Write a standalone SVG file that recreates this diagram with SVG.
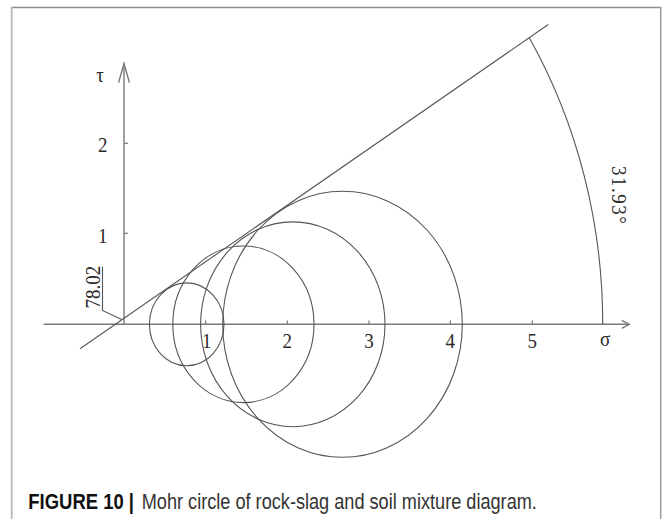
<svg xmlns="http://www.w3.org/2000/svg" width="665" height="519" viewBox="0 0 665 519">
  <style>
    .axis { stroke: #7a7a7a; stroke-width: 1.4; fill: none; }
    .tick { stroke: #7a7a7a; stroke-width: 1.2; fill: none; }
    .curve { stroke: #555; stroke-width: 1.1; fill: none; }
    .lbl { font-family: 'Liberation Serif', 'Times New Roman', serif; font-size: 19px; fill: #2a2a2a; }
    .mid { text-anchor: middle; }
    .cap { font-family: 'Liberation Sans', Arial, sans-serif; font-size: 22px; }
  </style>
  <rect width="665" height="519" fill="#ffffff"/>
  <g id="frame">
    <line x1="11.5" y1="7.5" x2="661" y2="7.5" stroke="#8c8c8c" stroke-width="1.5"/>
    <line x1="11.7" y1="7" x2="11.7" y2="519" stroke="#bdbdbd" stroke-width="2"/>
    <line x1="660.7" y1="7" x2="660.7" y2="519" stroke="#9a9a9a" stroke-width="1.5"/>
  </g>
  <g id="axes">
    <line class="axis" x1="43.5" y1="324.3" x2="629.3" y2="324.3"/>
    <polyline class="axis" points="621.7,320.3 629.3,324.3 621.7,328.3"/>
    <line class="axis" x1="124" y1="324.3" x2="124" y2="63.5"/>
    <polyline class="axis" points="118.6,82.5 124,63.5 129.4,82.5"/>
    <g id="ticks">
      <line class="tick" x1="205.7" y1="320.5" x2="205.7" y2="324.3"/>
      <line class="tick" x1="287.3" y1="320.5" x2="287.3" y2="324.3"/>
      <line class="tick" x1="369" y1="320.5" x2="369" y2="324.3"/>
      <line class="tick" x1="450.3" y1="320.5" x2="450.3" y2="324.3"/>
      <line class="tick" x1="532.3" y1="320.5" x2="532.3" y2="324.3"/>
      <line class="tick" x1="124" y1="233.3" x2="128" y2="233.3"/>
      <line class="tick" x1="124" y1="143.3" x2="128" y2="143.3"/>
    </g>
    <g id="axis-labels">
      <text class="lbl mid" transform="translate(206.7,348) scale(1,1.12)">1</text>
      <text class="lbl mid" transform="translate(287.3,348) scale(1,1.12)">2</text>
      <text class="lbl mid" transform="translate(369,348) scale(1,1.12)">3</text>
      <text class="lbl mid" transform="translate(450.3,348) scale(1,1.12)">4</text>
      <text class="lbl mid" transform="translate(532.3,348) scale(1,1.12)">5</text>
      <text class="lbl mid" transform="translate(605,346) scale(1,1.12)">σ</text>
      <text class="lbl mid" transform="translate(102.7,243) scale(1,1.12)">1</text>
      <text class="lbl mid" transform="translate(102.7,151.7) scale(1,1.12)">2</text>
      <text class="lbl mid" transform="translate(100,81.5) scale(1,1.12)">τ</text>
    </g>
  </g>
  <g id="circles">
    <ellipse id="circle1" class="curve" cx="186.7" cy="324.3" rx="37.3" ry="41.4"/>
    <ellipse id="circle2" class="curve" cx="243.4" cy="324.3" rx="70.6" ry="78.3"/>
    <ellipse id="circle3" class="curve" cx="292.8" cy="324.3" rx="92.2" ry="102.4"/>
    <ellipse id="circle4" class="curve" cx="342.5" cy="324.3" rx="119.8" ry="133"/>
  </g>
  <g id="connectors">
    <line id="envelope" class="curve" x1="80" y1="348.7" x2="548.3" y2="24.5"/>
    <path id="angle-arc" class="curve" d="M 529.3 37.7 A 487.4 541.5 0 0 1 602.7 324.3"/>
    <polyline id="cohesion-leader" class="curve" points="121.7,319.5 102.5,310.5 102.5,266.7"/>
  </g>
  <g id="annotations">
    <text class="lbl" transform="translate(100,308.5) rotate(-90) scale(1,1.08)">78.02</text>
    <text class="lbl" transform="translate(612,166) rotate(90) scale(1,1.08)" letter-spacing="1.5">31.93°</text>
  </g>
  <g id="caption">
    <text class="cap" transform="translate(28.3,509) scale(0.84,1)" font-weight="bold" fill="#111">FIGURE 10 |</text>
    <text class="cap" transform="translate(141.7,509) scale(0.825,1)" fill="#333">Mohr circle of rock-slag and soil mixture diagram.</text>
  </g>
</svg>
